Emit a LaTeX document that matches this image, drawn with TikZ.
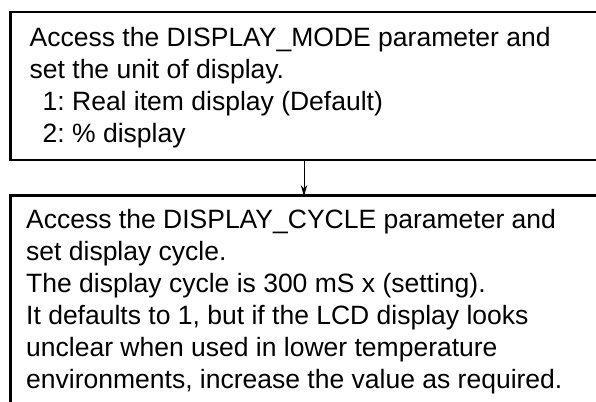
\documentclass[tikz,border=0pt]{standalone}
\usepackage{fontspec}
\setmainfont{Liberation Sans}
\usetikzlibrary{arrows.meta}
\begin{document}
\begin{tikzpicture}[x=1bp,y=-1bp,
  frame/.style={line width=2.4bp,line cap=rect},
  body/.style={anchor=base west,inner sep=0pt,align=left,
    font=\fontsize{26.5bp}{32bp}\selectfont\frenchspacing},
  link/.style={line width=0.9bp,-{Stealth[length=11bp,width=6.5bp]}}]
  \useasboundingbox (0,0) rectangle (596,401);
  % upper step: open on the right
  \draw[frame] (600,12) -- (10.5,12) -- (10.5,160) -- (600,160);
  % lower step: open on the right and at the bottom
  \draw[frame] (600,195.5) -- (10.5,195.5) -- (10.5,405);
  % the base anchor of a multi-line node sits on its last line
  \node[body] (mode) at (29.5,142) {Access the DISPLAY\_MODE parameter and\\
    set the unit of display.\\
    \hspace*{13bp}1: Real item display (Default)\\
    \hspace*{13bp}2: \% display};
  \node[body] (cycle) at (26,388.5) {Access the DISPLAY\_CYCLE parameter and\\
    set display cycle.\\
    The display cycle is 300 mS x (setting).\\
    It defaults to 1, but if the LCD display looks\\
    unclear when used in lower temperature\\
    environments, increase the value as required.};
  \coordinate (from) at (304,160);
  \coordinate (to) at (304,196);
  \draw[link] (from) -- (to);
\end{tikzpicture}
\end{document}
